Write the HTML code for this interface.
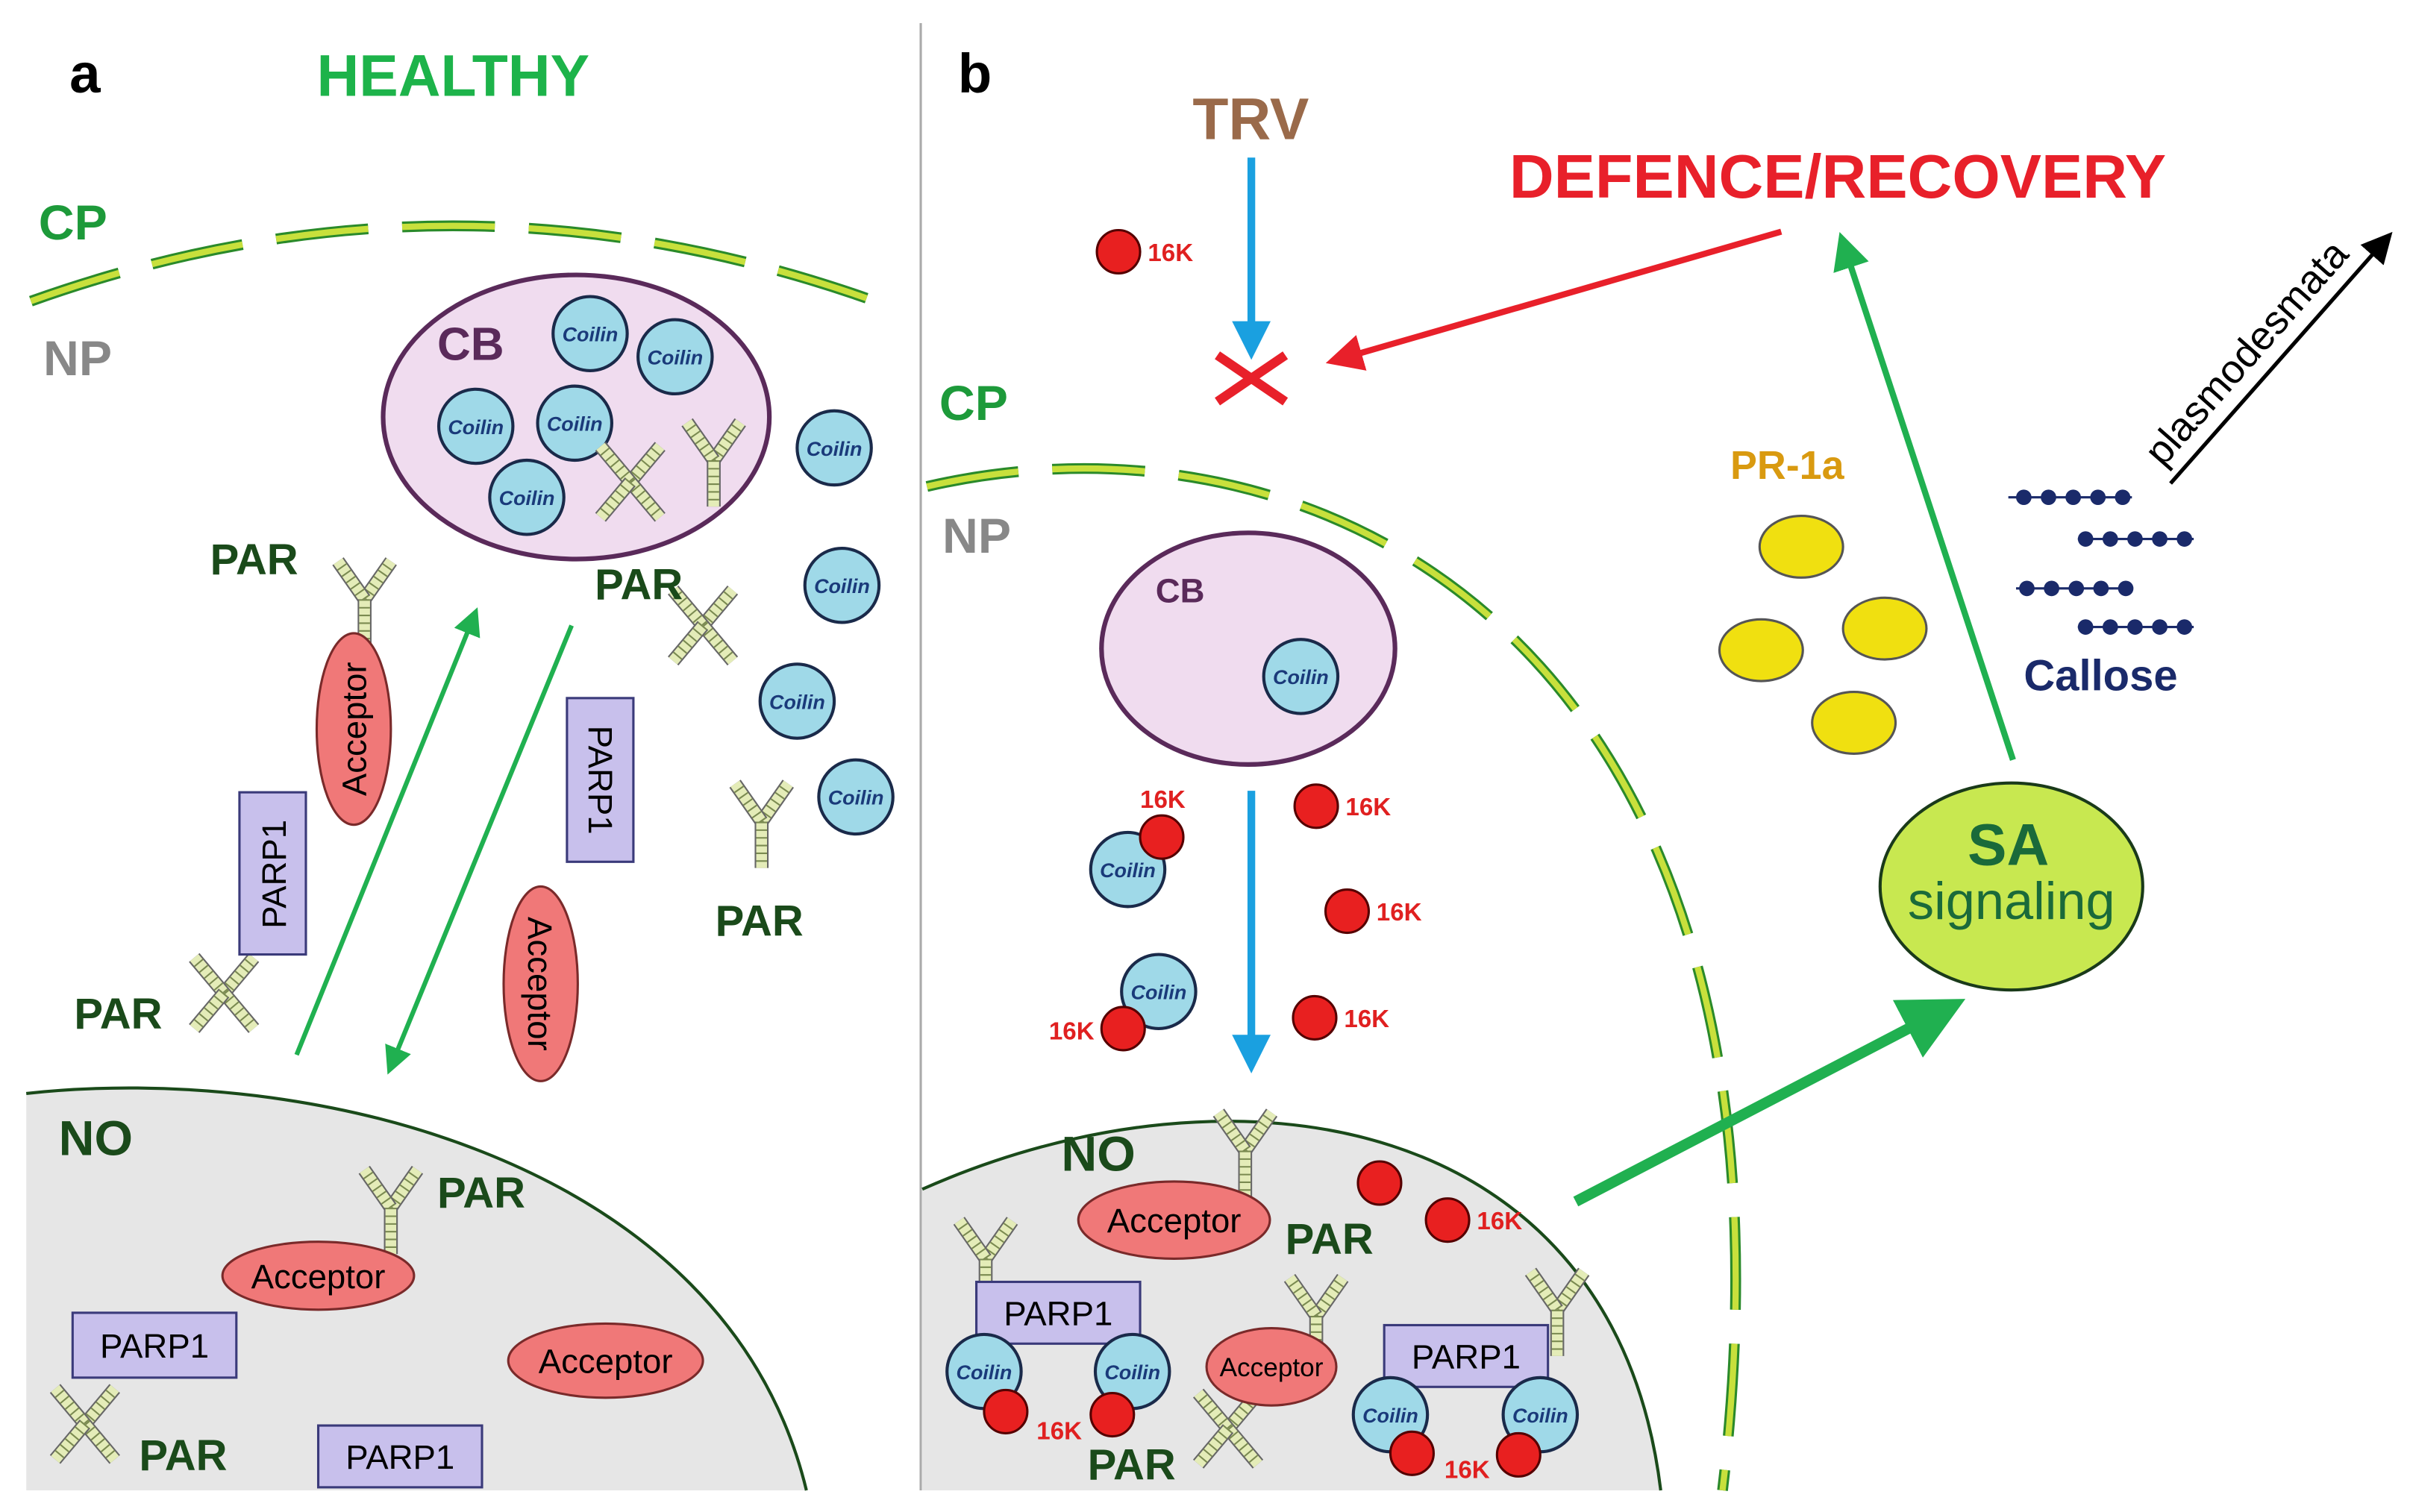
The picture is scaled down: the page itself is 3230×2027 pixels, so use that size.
<!DOCTYPE html>
<html><head><meta charset="utf-8"><style>
html,body{margin:0;padding:0;background:#fff}
svg{display:block}
text{font-family:"Liberation Sans",sans-serif}
.par{font-weight:bold;font-size:28px;fill:#1a4a1a}
.co{font-weight:bold;font-style:italic;font-size:13px;fill:#1a3a7a;text-anchor:middle}
.k{font-weight:bold;font-size:16px;fill:#e02020}
</style></head><body>
<svg width="3230" height="2027" viewBox="0 0 1560 979" preserveAspectRatio="none" xmlns="http://www.w3.org/2000/svg">
<defs>
<g id="strand">
<path d="M0,0 L0,-30" stroke="#666" stroke-width="9" fill="none"/>
<path d="M0,0 L0,-30" stroke="#e4ecb8" stroke-width="7" fill="none"/>
<path d="M0,0 L0,-30" stroke="#7a8a50" stroke-width="7" stroke-dasharray="1 4" fill="none"/>
</g>
<g id="X"><use href="#strand" transform="rotate(40)"/><use href="#strand" transform="rotate(-40)"/><use href="#strand" transform="rotate(140)"/><use href="#strand" transform="rotate(-140)"/></g>
<g id="Y"><use href="#strand" transform="rotate(35)"/><use href="#strand" transform="rotate(-35)"/><use href="#strand" transform="rotate(180)"/></g>
<g id="coil"><circle r="24" fill="#9fd9e8" stroke="#1a2a4a" stroke-width="2"/><text class="co" y="5">Coilin</text></g>
<g id="red"><circle r="14" fill="#e82020" stroke="#500" stroke-width="1.5"/></g>
<marker id="ag" markerWidth="6" markerHeight="6" refX="5" refY="3" orient="auto" markerUnits="strokeWidth"><path d="M0,0 L6,3 L0,6 Z" fill="#20b050"/></marker>
<marker id="ab" markerWidth="5" markerHeight="5" refX="4" refY="2.5" orient="auto" markerUnits="strokeWidth"><path d="M0,0 L5,2.5 L0,5 Z" fill="#1aa0e0"/></marker>
<marker id="ar" markerWidth="6" markerHeight="6" refX="5" refY="3" orient="auto" markerUnits="strokeWidth"><path d="M0,0 L6,3 L0,6 Z" fill="#e8202a"/></marker>
<marker id="ak" markerWidth="8" markerHeight="8" refX="7" refY="4" orient="auto" markerUnits="strokeWidth"><path d="M0,0 L8,4 L0,8 Z" fill="#000"/></marker>
</defs>

<line x1="596" y1="15" x2="596" y2="965" stroke="#aaa" stroke-width="1.5"/>

<!-- Panel a -->
<text x="45" y="60" font-size="36" font-weight="bold">a</text>
<text x="205" y="62" font-size="38" font-weight="bold" fill="#1db34a">HEALTHY</text>
<text x="25" y="155" font-size="32" font-weight="bold" fill="#1d9a3a">CP</text>
<text x="28" y="243" font-size="32" font-weight="bold" fill="#888">NP</text>
<path d="M20,195 Q300,95 580,200" stroke="#2a8a2a" stroke-width="7" fill="none" stroke-dasharray="60 22"/>
<path d="M20,195 Q300,95 580,200" stroke="#c8e03c" stroke-width="4" fill="none" stroke-dasharray="60 22"/>

<path d="M17,708 C200,688 470,750 522,965 L17,965 Z" fill="#e6e6e6"/>
<path d="M17,708 C200,688 470,750 522,965" fill="none" stroke="#1a4a1a" stroke-width="2"/>
<text x="38" y="748" font-size="32" font-weight="bold" fill="#1a4a1a">NO</text>

<ellipse cx="373" cy="270" rx="125" ry="92" fill="#f0dcef" stroke="#5a2a5a" stroke-width="3"/>
<text x="283" y="233" font-size="30" font-weight="bold" fill="#5a2a5a">CB</text>
<use href="#coil" x="382" y="216"/><use href="#coil" x="437" y="231"/><use href="#coil" x="308" y="276"/>
<use href="#coil" x="372" y="274"/><use href="#coil" x="341" y="322"/>
<use href="#coil" x="540" y="290"/><use href="#coil" x="545" y="379"/><use href="#coil" x="516" y="454"/><use href="#coil" x="554" y="516"/>
<use href="#X" x="408" y="312"/>
<use href="#Y" x="462" y="298"/>
<use href="#Y" x="236" y="388"/>
<use href="#X" x="455" y="405"/>
<use href="#Y" x="493" y="532"/>
<use href="#X" x="145" y="643"/>
<use href="#Y" x="253" y="782"/>
<use href="#X" x="55" y="922"/>

<text class="par" x="136" y="372">PAR</text>
<text class="par" x="385" y="388">PAR</text>
<text class="par" x="463" y="606">PAR</text>
<text class="par" x="48" y="666">PAR</text>
<text class="par" x="283" y="782">PAR</text>
<text class="par" x="90" y="952">PAR</text>

<g fill="#c8c0ec" stroke="#3a3a7a" stroke-width="1.5">
<rect x="155" y="513" width="43" height="105"/>
<rect x="367" y="452" width="43" height="106"/>
<rect x="47" y="850" width="106" height="42"/>
<rect x="206" y="923" width="106" height="40"/>
</g>
<text transform="translate(185,566) rotate(-90)" font-size="22" text-anchor="middle">PARP1</text>
<text transform="translate(381,505) rotate(90)" font-size="22" text-anchor="middle">PARP1</text>
<text x="100" y="879" font-size="22" text-anchor="middle">PARP1</text>
<text x="259" y="951" font-size="22" text-anchor="middle">PARP1</text>

<g fill="#f07878" stroke="#7a2a2a" stroke-width="1.5">
<ellipse cx="229" cy="472" rx="24" ry="62"/>
<ellipse cx="350" cy="637" rx="24" ry="63"/>
<ellipse cx="206" cy="826" rx="62" ry="22"/>
<ellipse cx="392" cy="881" rx="63" ry="24"/>
</g>
<text transform="translate(237,472) rotate(-90)" font-size="22" text-anchor="middle">Acceptor</text>
<text transform="translate(342,637) rotate(90)" font-size="22" text-anchor="middle">Acceptor</text>
<text x="206" y="834" font-size="22" text-anchor="middle">Acceptor</text>
<text x="392" y="889" font-size="22" text-anchor="middle">Acceptor</text>

<line x1="192" y1="683" x2="308" y2="396" stroke="#20b050" stroke-width="3" marker-end="url(#ag)"/>
<line x1="370" y1="405" x2="252" y2="693" stroke="#20b050" stroke-width="3" marker-end="url(#ag)"/>

<!-- Panel b -->
<text x="620" y="60" font-size="36" font-weight="bold">b</text>
<text x="772" y="90" font-size="38" font-weight="bold" fill="#9a6a4a">TRV</text>
<text x="977" y="128" font-size="40" font-weight="bold" fill="#e8202a">DEFENCE/RECOVERY</text>
<line x1="810" y1="102" x2="810" y2="228" stroke="#1aa0e0" stroke-width="5" marker-end="url(#ab)"/>
<path d="M788,230 L832,260 M832,230 L788,260" stroke="#e8202a" stroke-width="6"/>
<line x1="1153" y1="150" x2="862" y2="234" stroke="#e8202a" stroke-width="4" marker-end="url(#ar)"/>
<use href="#red" x="724" y="163"/><text class="k" x="743" y="169">16K</text>

<text x="608" y="272" font-size="32" font-weight="bold" fill="#1d9a3a">CP</text>
<text x="610" y="358" font-size="32" font-weight="bold" fill="#888">NP</text>
<path d="M600,315 C860,255 1180,420 1115,965" stroke="#2a8a2a" stroke-width="7" fill="none" stroke-dasharray="60 22"/>
<path d="M600,315 C860,255 1180,420 1115,965" stroke="#c8e03c" stroke-width="4" fill="none" stroke-dasharray="60 22"/>

<path d="M597,770 C800,680 1045,720 1075,965 L597,965 Z" fill="#e6e6e6"/>
<path d="M597,770 C800,680 1045,720 1075,965" fill="none" stroke="#1a4a1a" stroke-width="2"/>
<text x="687" y="758" font-size="32" font-weight="bold" fill="#1a4a1a">NO</text>

<ellipse cx="808" cy="420" rx="95" ry="75" fill="#f0dcef" stroke="#5a2a5a" stroke-width="3"/>
<text x="748" y="390" font-size="22" font-weight="bold" fill="#5a2a5a">CB</text>
<use href="#coil" x="842" y="438"/>
<line x1="810" y1="512" x2="810" y2="690" stroke="#1aa0e0" stroke-width="5" marker-end="url(#ab)"/>

<use href="#coil" x="730" y="563"/><use href="#red" x="752" y="542"/><text class="k" x="738" y="523">16K</text>
<use href="#coil" x="750" y="642"/><use href="#red" x="727" y="666"/><text class="k" x="679" y="673">16K</text>
<use href="#red" x="852" y="522"/><text class="k" x="871" y="528">16K</text>
<use href="#red" x="872" y="590"/><text class="k" x="891" y="596">16K</text>
<use href="#red" x="851" y="659"/><text class="k" x="870" y="665">16K</text>

<text x="1120" y="310" font-size="26" font-weight="bold" fill="#d99a10">PR-1a</text>
<g fill="#f0e010" stroke="#555" stroke-width="1.5">
<ellipse cx="1166" cy="354" rx="27" ry="20"/><ellipse cx="1140" cy="421" rx="27" ry="20"/>
<ellipse cx="1220" cy="407" rx="27" ry="20"/><ellipse cx="1200" cy="468" rx="27" ry="20"/>
</g>
<g fill="#1a2a6a">
<circle cx="1310" cy="322" r="5"/><circle cx="1326" cy="322" r="5"/><circle cx="1342" cy="322" r="5"/><circle cx="1358" cy="322" r="5"/><circle cx="1374" cy="322" r="5"/>
<circle cx="1350" cy="349" r="5"/><circle cx="1366" cy="349" r="5"/><circle cx="1382" cy="349" r="5"/><circle cx="1398" cy="349" r="5"/><circle cx="1414" cy="349" r="5"/>
<circle cx="1312" cy="381" r="5"/><circle cx="1328" cy="381" r="5"/><circle cx="1344" cy="381" r="5"/><circle cx="1360" cy="381" r="5"/><circle cx="1376" cy="381" r="5"/>
<circle cx="1350" cy="406" r="5"/><circle cx="1366" cy="406" r="5"/><circle cx="1382" cy="406" r="5"/><circle cx="1398" cy="406" r="5"/><circle cx="1414" cy="406" r="5"/>
</g>
<path d="M1300,322 H1380 M1345,349 H1420 M1305,381 H1380 M1345,406 H1420" stroke="#1a2a6a" stroke-width="1.5"/>
<text x="1310" y="447" font-size="28" font-weight="bold" fill="#1a2a6a">Callose</text>
<line x1="1405" y1="313" x2="1547" y2="152" stroke="#000" stroke-width="2.5" marker-end="url(#ak)"/>
<text transform="translate(1400,303) rotate(-48.6)" font-size="26">plasmodesmata</text>

<line x1="1303" y1="492" x2="1192" y2="154" stroke="#20b050" stroke-width="4" marker-end="url(#ag)"/>
<ellipse cx="1302" cy="574" rx="85" ry="67" fill="#c8e850" stroke="#1a3a1a" stroke-width="2"/>
<text x="1300" y="560" font-size="38" font-weight="bold" fill="#1a6a3a" text-anchor="middle">SA</text>
<text x="1302" y="595" font-size="34" fill="#1a6a3a" text-anchor="middle">signaling</text>
<line x1="1020" y1="778" x2="1266" y2="650" stroke="#20b050" stroke-width="7" marker-end="url(#ag)"/>

<use href="#Y" x="638" y="815"/>
<use href="#Y" x="806" y="745"/>
<use href="#Y" x="852" y="852"/>
<use href="#Y" x="1008" y="848"/>
<use href="#X" x="795" y="925"/>

<g fill="#c8c0ec" stroke="#3a3a7a" stroke-width="1.5">
<rect x="632" y="830" width="106" height="40"/>
<rect x="896" y="858" width="106" height="40"/>
</g>
<text x="685" y="858" font-size="22" text-anchor="middle">PARP1</text>
<text x="949" y="886" font-size="22" text-anchor="middle">PARP1</text>
<g fill="#f07878" stroke="#7a2a2a" stroke-width="1.5">
<ellipse cx="760" cy="790" rx="62" ry="25"/><ellipse cx="823" cy="885" rx="42" ry="25"/>
</g>
<text x="760" y="798" font-size="22" text-anchor="middle">Acceptor</text>
<text x="823" y="891" font-size="17" text-anchor="middle">Acceptor</text>

<use href="#coil" x="637" y="888"/><use href="#coil" x="733" y="888"/>
<use href="#red" x="651" y="914"/><use href="#red" x="720" y="916"/><text class="k" x="671" y="932">16K</text>
<use href="#coil" x="900" y="916"/><use href="#coil" x="997" y="916"/>
<use href="#red" x="914" y="941"/><use href="#red" x="983" y="942"/><text class="k" x="935" y="957">16K</text>
<use href="#red" x="893" y="766"/>
<use href="#red" x="937" y="790"/><text class="k" x="956" y="796">16K</text>
<text class="par" x="832" y="812">PAR</text>
<text class="par" x="704" y="958">PAR</text>
</svg>
</body></html>
